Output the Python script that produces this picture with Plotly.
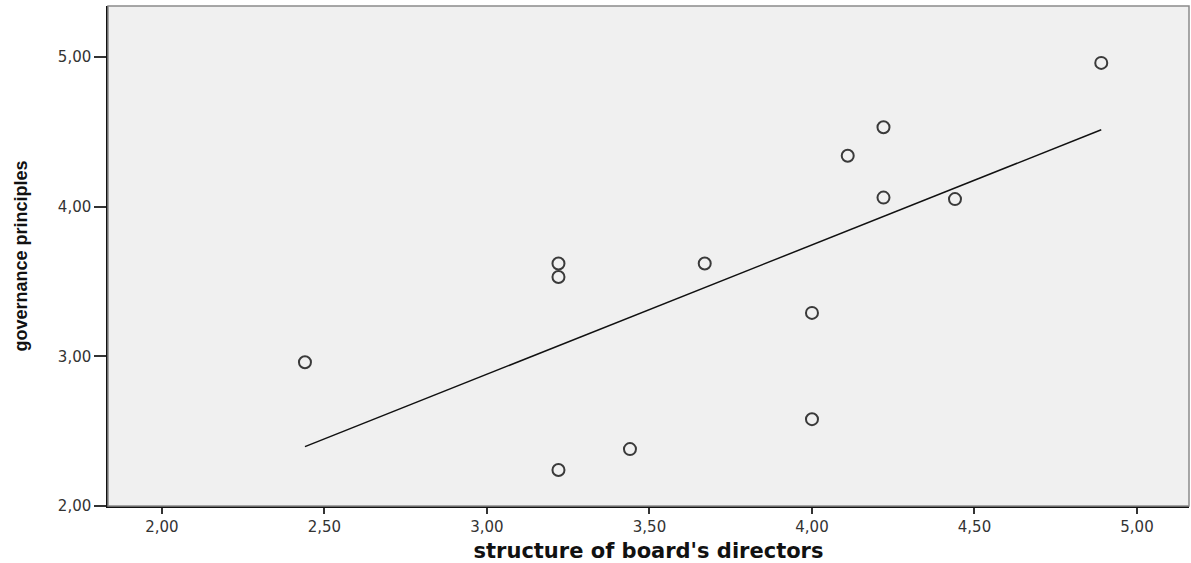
import numpy as np
import plotly.graph_objects as go

# Data
board_structure = [2.44, 3.22, 3.22, 3.22, 3.44, 3.67, 4.00, 4.00, 4.11, 4.22, 4.22, 4.44, 4.89]
governance = [2.96, 3.62, 3.53, 2.24, 2.38, 3.62, 3.29, 2.58, 4.34, 4.53, 4.06, 4.05, 4.96]

x_ticks = [2.0, 2.5, 3.0, 3.5, 4.0, 4.5, 5.0]
x_tick_labels = ["2,00", "2,50", "3,00", "3,50", "4,00", "4,50", "5,00"]
y_ticks = [2.0, 3.0, 4.0, 5.0]
y_tick_labels = ["2,00", "3,00", "4,00", "5,00"]

x_title = "structure of board's directors"
y_title = "governance principles"

# Linear fit line (OLS) drawn across the data range
slope, intercept = np.polyfit(board_structure, governance, 1)
fit_x = [min(board_structure), max(board_structure)]
fit_y = [intercept + slope * v for v in fit_x]

fig = go.Figure()
fig.add_trace(go.Scatter(
    x=fit_x, y=fit_y, mode="lines",
    line=dict(color="#111111", width=1.5),
    showlegend=False, hoverinfo="skip",
))
fig.add_trace(go.Scatter(
    x=board_structure, y=governance, mode="markers",
    marker=dict(symbol="circle-open", size=12, color="#3a3a3a",
                line=dict(width=2, color="#3a3a3a")),
    showlegend=False,
))

# plot frame (top / right lighter)
fig.add_shape(type="rect", xref="paper", yref="paper", x0=0, x1=1, y0=0, y1=1,
              line=dict(color="#8a8a8a", width=1.5), layer="above")

tick_font = dict(family="DejaVu Sans", size=15, color="#333333")

fig.update_layout(
    width=1191, height=563,
    margin=dict(l=108, r=2, t=6, b=57),
    paper_bgcolor="white",
    plot_bgcolor="#f0f0f0",
    xaxis=dict(
        range=[1.834, 5.16], tickvals=x_ticks, ticktext=x_tick_labels,
        showgrid=False, zeroline=False,
        showline=True, linecolor="#111111", linewidth=1.5,
        ticks="outside", ticklen=6, tickwidth=1.5, tickcolor="#333333",
        tickfont=tick_font,
        title=dict(text=x_title, standoff=10,
                   font=dict(family="DejaVu Sans", size=21, color="#111111", weight="bold")),
    ),
    yaxis=dict(
        range=[2.0, 5.34], tickvals=y_ticks, ticktext=y_tick_labels,
        showgrid=False, zeroline=False,
        showline=True, linecolor="#111111", linewidth=1.5,
        ticks="outside", ticklen=12, tickwidth=1.5, tickcolor="#333333",
        tickfont=tick_font,
        title=dict(text=y_title, standoff=26,
                   font=dict(family="Liberation Sans Narrow, Liberation Sans", size=18,
                             color="#111111", weight="bold")),
    ),
)

fig.write_html("out.html", config={"displayModeBar": False},
               post_script="document.body.style.margin='0';document.body.style.overflow='hidden';")
